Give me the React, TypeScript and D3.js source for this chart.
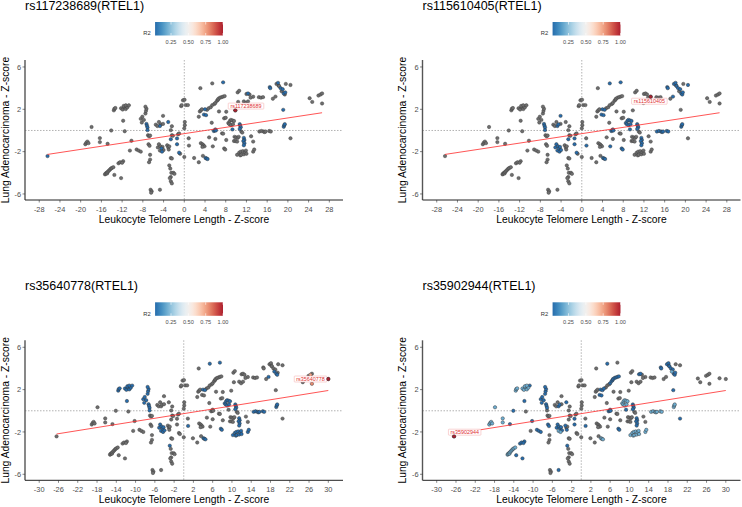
import React from "react";
import * as d3 from "d3";

// ---------- data ----------
const panelTitles = ["rs117238689(RTEL1)", "rs115610405(RTEL1)", "rs35640778(RTEL1)", "rs35902944(RTEL1)"];
const leadSnps = ["rs117238689", "rs115610405", "rs35640778", "rs35902944"];
const xTicksTop = [-28, -24, -20, -16, -12, -8, -4, 0, 4, 8, 12, 16, 20, 24, 28];
const xTicksBottom = [-30, -26, -22, -18, -14, -10, -6, -2, 2, 6, 10, 14, 18, 22, 26, 30];
const yTicks = [-6, -2, 2, 6];
const legendTicks = [0.25, 0.5, 0.75, 1.0];
const fitIntercepts = [-0.3, -0.3, -0.27, -0.27];
const fitSlopes = [0.0743, 0.0743, 0.0729, 0.0729];

// SNP positions (LTL z-score, LUAD z-score), grouped in clusters
const snpClusters: [number, number][][] = [
  [[-26.4, -2.42]], // 0
  [[-19.1, -1.3], [-18.9, -1.15], [-18.7, -1.05], [-18.5, -1.2]], // 1
  [[-17.9, 0.33]], // 2
  [[-16.3, -0.72], [-16.3, -1.1]], // 3
  [[-14.8, -1.26]], // 4
  [[-14.1, 0.0]], // 5
  [[-13.6, 1.9], [-13.5, 2.05], [-13.3, 2.12], [-12.2, 2.1], [-11.9, 1.98], [-11.6, 2.2], [-11.3, 2.02], [-11.0, 2.18], [-11.7, 2.32], [-11.3, 2.38]], // 6
  [[-10.7, 2.38]], // 7
  [[-11.8, 0.92]], // 8
  [[-11.5, -0.07]], // 9
  [[-10.2, -0.97]], // 10
  [[-10.5, -1.9]], // 11
  [[-11.8, -2.9]], // 12
  [[-15.3, -4.15], [-15.2, -4.08], [-15.0, -4.0], [-14.9, -4.06], [-14.8, -3.92], [-14.6, -3.82], [-14.4, -3.72], [-14.2, -3.62], [-14.0, -3.55], [-13.7, -3.47]], // 13
  [[-13.5, -4.2]], // 14
  [[-12.7, -3.1], [-12.4, -3.0], [-12.0, -3.05]], // 15
  [[-12.2, -4.5]], // 16
  [[-9.2, -1.8], [-8.8, -1.9], [-8.4, -2.0]], // 17
  [[-8.4, 1.1], [-8.1, 1.3], [-7.8, 1.0], [-8.2, 0.75]], // 18
  [[-7.5, 1.6], [-7.4, 1.85], [-7.3, 2.05], [-7.5, 2.25]], // 19
  [[-7.3, 0.62], [-7.2, 0.45], [-7.1, 0.28]], // 20
  [[-7.1, 0.03]], // 21
  [[-7.0, -0.45], [-6.8, -0.55], [-6.6, -0.48]], // 22
  [[-6.9, -1.3], [-6.7, -1.45]], // 23
  [[-6.6, -2.3], [-6.6, -2.75], [-6.8, -3.0]], // 24
  [[-6.5, -5.6], [-6.3, -5.75], [-6.4, -5.88]], // 25
  [[-5.5, 0.55], [-5.2, 0.42], [-4.9, 0.8]], // 26
  [[-4.7, 0.42], [-4.5, 0.58]], // 27
  [[-4.1, 0.62], [-4.1, 1.38]], // 28
  [[-3.1, 0.8]], // 29
  [[-2.6, 0.03], [-2.4, 0.4]], // 30
  [[-2.4, -0.45], [-2.2, -0.5]], // 31
  [[-2.6, -0.83]], // 32
  [[-1.4, -0.75], [-1.4, -1.3]], // 33
  [[-1.0, -2.1]], // 34
  [[-1.2, -0.36], [-1.0, -0.28]], // 35
  [[-0.6, 2.3], [-0.5, 2.4]], // 36
  [[-0.25, 2.85], [0.05, 2.9]], // 37
  [[-5.1, -1.6], [-4.9, -1.3], [-4.7, -1.9], [-4.6, -1.5], [-4.4, -1.7], [-4.3, -2.0], [-4.2, -1.55], [-4.0, -1.85]], // 38
  [[-3.3, -1.4], [-3.1, -1.6], [-3.0, -1.8], [-2.9, -1.5]], // 39
  [[-2.9, -3.3], [-2.7, -3.6], [-2.5, -4.0], [-2.6, -4.4], [-2.8, -4.5], [-2.6, -4.8], [-2.4, -5.0]], // 40
  [[-2.1, -4.0], [-1.9, -4.1]], // 41
  [[-4.7, -5.6]], // 42
  [[-2.6, -2.6], [-2.4, -2.65]], // 43
  [[-0.8, -2.2]], // 44
  [[0.1, 0.8], [0.1, 0.5], [0.0, 0.2]], // 45
  [[0.3, 2.4], [0.7, 2.4]], // 46
  [[0.85, -0.74]], // 47
  [[0.9, -1.43]], // 48
  [[0.0, -2.5]], // 49
  [[1.9, -2.6]], // 50
  [[2.8, -3.0]], // 51
  [[3.1, 4.0]], // 52
  [[3.0, 1.8], [3.2, 1.9], [3.4, 2.0]], // 53
  [[4.0, 2.0], [4.4, 1.95], [4.7, 2.1]], // 54
  [[2.8, 1.3]], // 55
  [[3.8, 1.5], [4.2, 1.45]], // 56
  [[5.1, 2.2], [5.4, 2.4], [5.8, 2.5]], // 57
  [[5.4, 4.45]], // 58
  [[3.2, -1.2], [3.5, -1.3], [3.7, -1.4], [3.9, -1.5], [3.5, -1.55]], // 59
  [[4.1, -2.6], [4.3, -2.65], [4.5, -2.7]], // 60
  [[3.6, -2.4]], // 61
  [[4.8, -0.65]], // 62
  [[5.7, -0.05], [5.9, 0.0], [6.0, 0.1], [6.1, 0.0]], // 63
  [[6.0, -0.8]], // 64
  [[5.5, -1.5]], // 65
  [[5.3, 0.73]], // 66
  [[6.0, 2.6], [6.3, 2.8], [6.5, 2.9], [6.6, 3.0], [6.9, 3.1], [7.2, 3.15], [7.5, 3.2], [7.8, 3.25]], // 67
  [[7.5, 4.55]], // 68
  [[6.7, 1.8]], // 69
  [[7.7, 1.15], [8.0, 1.2]], // 70
  [[7.3, -0.27], [7.5, -0.3]], // 71
  [[7.7, -1.7], [7.9, -1.8]], // 72
  [[8.1, 1.77]], // 73
  [[8.5, 0.7], [8.7, 0.6], [8.8, 0.9], [9.0, 1.0], [9.0, 0.5], [9.3, 0.95], [9.4, 0.6], [9.6, 0.9]], // 74
  [[8.1, -0.9]], // 75
  [[9.85, 1.9]], // 76
  [[10.3, 3.6], [10.6, 3.75]], // 77
  [[12.0, 3.45], [12.3, 3.5], [12.6, 3.4]], // 78
  [[11.5, 2.75], [11.9, 2.6], [12.3, 2.75]], // 79
  [[13.3, 3.19]], // 80
  [[10.4, 2.7]], // 81
  [[12.8, 3.1]], // 82
  [[14.4, 3.15], [14.8, 3.1], [15.2, 3.15]], // 83
  [[10.7, 0.6], [10.8, 0.45], [10.9, 0.3], [10.7, 0.15]], // 84
  [[9.3, 0.1]], // 85
  [[11.0, -0.1], [11.2, -0.2]], // 86
  [[9.7, -0.6], [10.0, -0.65], [10.3, -0.7], [10.5, -0.6]], // 87
  [[9.6, -1.0], [9.9, -1.0], [10.2, -1.05]], // 88
  [[11.5, -0.7], [11.6, -0.9], [11.4, -1.0], [11.6, -1.2], [11.5, -1.4]], // 89
  [[12.9, -0.55]], // 90
  [[13.3, -1.05]], // 91
  [[10.2, -2.3], [10.6, -2.1], [10.8, -2.35], [10.9, -2.0], [11.0, -2.3], [11.3, -1.95], [11.5, -2.25], [11.7, -2.05], [11.9, -1.9], [12.0, -2.2]], // 92
  [[13.3, -2.0], [13.5, -1.8]], // 93
  [[14.5, -0.1], [14.9, -0.05], [15.3, -0.1], [15.5, -0.15], [15.7, -0.1], [16.4, -0.05], [16.7, -0.1]], // 94
  [[16.5, 4.1], [16.6, 4.0]], // 95
  [[17.1, 3.0]], // 96
  [[17.8, 4.4], [18.1, 4.5], [18.2, 4.25], [18.3, 4.2], [18.6, 4.0], [18.8, 3.7], [19.0, 3.9], [19.2, 3.5], [19.4, 3.4], [19.5, 3.6]], // 97
  [[19.6, 4.4]], // 98
  [[20.5, 4.3]], // 99
  [[17.6, 3.2]], // 100
  [[19.1, 1.95]], // 101
  [[19.2, 0.35], [19.3, 0.5], [19.4, 0.6]], // 102
  [[20.5, -0.74]], // 103
  [[24.2, 3.05], [24.7, 2.7]], // 104
  [[25.9, 3.3], [26.3, 3.4], [26.6, 3.5]], // 105
  [[26.6, 2.55]], // 106
  [[28.7, 3.07]], // 107
  [[30.0, 3.0]], // 108
];

// R2 with each lead SNP: [cluster index, value]; unlisted = NA (grey); -1 = not in panel
const D = 0.02;
const L = 0.19;
const N = null;
const X = -1;
type R2 = number | null | (number | null)[];
const r2Rs117238689: [number, R2][] = [
  [0, D], [20, D], [21, D], [27, [D, N]], [29, D], [32, D], [33, D], [34, D],
  [38, [N, N, N, N, D, D, N, N]], [54, [D, N, N]], [56, D], [60, D], [63, D], [68, D], [76, 1],
  [78, [N, D, N]], [84, D], [85, D], [89, D], [95, D], [97, [N, D, N, N, D, N, D, D, N, D]],
  [101, D], [102, D], [107, X], [108, X],
];
const r2Rs115610405: [number, R2][] = [
  [20, D], [21, D], [27, D], [28, [N, D]], [32, D], [33, D], [34, D], [38, D], [48, D],
  [54, [D, D, N]], [56, D], [58, D], [60, D], [63, D], [65, D], [68, D], [72, D], [74, D],
  [80, 1], [84, D], [85, D], [89, D], [94, D], [95, D], [97, [D, D, N, D, D, N, D, D, D, D]],
  [99, D], [100, D], [102, D], [107, X], [108, X],
];
const r2Rs35640778: [number, R2][] = [
  [6, D], [7, D], [8, D], [18, D], [19, D], [20, D], [21, D], [38, D], [40, [D, N, N, N, N, N, N]],
  [48, D], [54, [D, D, N]], [58, D], [60, D], [68, D], [72, D], [74, D], [84, D], [89, D],
  [92, D], [93, D], [94, D], [97, [N, N, N, N, N, D, N, D, D, N]], [100, D], [102, D],
  [105, [N, 0.75, N]], [106, 0.8], [108, 1],
];
const r2Rs35902944: [number, R2][] = [
  [0, 1], [1, L], [2, L], [3, L], [4, D], [5, D], [6, L], [7, D], [8, D], [10, D], [12, D],
  [13, L], [14, D], [15, D], [16, D], [17, D], [18, D], [19, D], [20, D], [23, D], [27, D],
  [29, D], [33, D], [38, [D, D, L, D, D, L, D, D]], [39, [D, N, D, N]], [40, [D, N, N, N, N, N, N]],
  [42, D], [48, D], [54, D], [56, D], [58, D], [60, L], [63, D], [67, D], [72, D], [74, L],
  [78, [D, D, N]], [84, D], [85, D], [89, D], [92, L], [93, L], [94, L], [95, D],
  [97, [D, D, D, D, D, L, D, D, D, D]], [101, D], [102, L], [103, D],
];
const panelR2 = [r2Rs117238689, r2Rs115610405, r2Rs35640778, r2Rs35902944];

// ---------- layout ----------
const W = 742;
const H = 507;
const panelOffsets: [number, number][] = [[0, 0], [397.5, 0], [0, 280.3], [397.5, 280.3]];
const PL = 25, PR = 343, PT = 60, PB = 200;
const xDomTop: [number, number] = [-30.75, 30.64];
const xDomBottom: [number, number] = [-32.95, 33.05];
const yDom: [number, number] = [-6.57, 6.66];
const labelNudge: [number, number][] = [[10.7, -4.3], [-1.3, 4.5], [-17.8, 0], [10.6, -4.2]];
const FONT = "'Liberation Sans', Arial, Helvetica, sans-serif";
const PR_R = 1.7;

const r2Color = (r: number) => d3.interpolateRdBu(0.9 - 0.8 * r);

type Pt = { x: number; y: number; r2: number | null };

function panelPoints(pi: number): Pt[] {
  const table = new Map<number, R2>(panelR2[pi]);
  const pts: Pt[] = [];
  snpClusters.forEach((cl, ci) => {
    const v = table.has(ci) ? table.get(ci)! : null;
    cl.forEach(([x, y], k) => {
      const r = Array.isArray(v) ? v[k] : v;
      if (r === X) return;
      pts.push({ x, y, r2: r });
    });
  });
  return pts;
}

function Panel({ idx }: { idx: number }) {
  const [ox, oy] = panelOffsets[idx];
  const top = idx < 2;
  const xs = d3.scaleLinear().domain(top ? xDomTop : xDomBottom).range([PL, PR]);
  const ys = d3.scaleLinear().domain(yDom).range([PB, PT]);
  const xt = top ? xTicksTop : xTicksBottom;
  const pts = panelPoints(idx);
  const grey = pts.filter((p) => p.r2 === null);
  const col = pts.filter((p) => p.r2 !== null).sort((a, b) => (a.r2 as number) - (b.r2 as number));
  const lead = pts.find((p) => p.r2 === 1)!;
  const [xmin, xmax] = d3.extent(pts, (p) => p.x) as [number, number];
  const fit = (x: number) => fitIntercepts[idx] + fitSlopes[idx] * x;
  const lineGen = d3.line<number>().x((x) => xs(x)).y((x) => ys(fit(x)));

  // legend
  const lx = d3.scaleLinear().domain([0, 1]).range([153.7, 223]);
  const barX0 = lx(0.02), barX1 = lx(1);
  const barY = 22, barH = 13.5;

  const name = leadSnps[idx];
  const bw = name.length * 3.05 + 2;
  const bh = 6;
  const lcx = xs(lead.x) + labelNudge[idx][0];
  const lcy = ys(lead.y) + labelNudge[idx][1];

  return (
    <g transform={`translate(${ox},${oy})`}>
      <text x={PL} y={9.5} fontSize={12.5} fill="#000">{panelTitles[idx]}</text>
      {/* legend */}
      <text x={143.3} y={35.3} fontSize={5.8} fill="#333">R2</text>
      <rect x={barX0} y={barY} width={barX1 - barX0} height={barH} fill="url(#r2grad)" />
      {legendTicks.map((t) => (
        <g key={t}>
          <line x1={lx(t)} x2={lx(t)} y1={barY} y2={barY + 2.5} stroke="#fff" strokeWidth={0.6} />
          <line x1={lx(t)} x2={lx(t)} y1={barY + barH - 2.5} y2={barY + barH} stroke="#fff" strokeWidth={0.6} />
          <text x={lx(t)} y={43.6} fontSize={5.6} fill="#4d4d4d" textAnchor="middle">{t.toFixed(2)}</text>
        </g>
      ))}
      {/* reference lines */}
      <line x1={xs(0)} x2={xs(0)} y1={PT} y2={PB} stroke="#666" strokeWidth={0.5} strokeDasharray="1.5,1.5" />
      <line x1={PL} x2={PR} y1={ys(0)} y2={ys(0)} stroke="#666" strokeWidth={0.5} strokeDasharray="1.5,1.5" />
      {/* points */}
      {grey.map((p, i) => (
        <circle key={"g" + i} cx={xs(p.x)} cy={ys(p.y)} r={PR_R} fill="#6e6e6e" stroke="#3c3c3c" strokeWidth={0.45} />
      ))}
      {col.map((p, i) => (
        <circle key={"c" + i} cx={xs(p.x)} cy={ys(p.y)} r={PR_R} fill={r2Color(p.r2 as number)} stroke="#333" strokeWidth={0.45} />
      ))}
      {/* fit line */}
      <path d={lineGen([xmin, xmax]) || ""} fill="none" stroke="#ff2a2a" strokeWidth={0.8} />
      {/* lead label */}
      <rect x={lcx - bw / 2} y={lcy - bh / 2} width={bw} height={bh} fill="#fff" stroke="#f2a6a6" strokeWidth={0.5} rx={0.6} />
      <text x={lcx} y={lcy + 1.9} fontSize={5.4} fill="#e0302f" textAnchor="middle">{name}</text>
      <circle cx={xs(lead.x)} cy={ys(lead.y)} r={PR_R} fill={r2Color(1)} stroke="#333" strokeWidth={0.45} />
      {/* axes */}
      <line x1={PL} x2={PL} y1={PT} y2={PB} stroke="#555" strokeWidth={1.4} />
      <line x1={PL} x2={PR} y1={PB} y2={PB} stroke="#222" strokeWidth={1} />
      {yTicks.map((t) => (
        <g key={t}>
          <line x1={PL - 2.5} x2={PL} y1={ys(t)} y2={ys(t)} stroke="#333" strokeWidth={0.6} />
          <text x={PL - 4} y={ys(t) + 2.6} fontSize={7.4} fill="#4d4d4d" textAnchor="end">{t}</text>
        </g>
      ))}
      {xt.map((t) => (
        <g key={t}>
          <line x1={xs(t)} x2={xs(t)} y1={PB} y2={PB + 2.5} stroke="#333" strokeWidth={0.6} />
          <text x={xs(t)} y={212} fontSize={7.4} fill="#4d4d4d" textAnchor="middle">{t}</text>
        </g>
      ))}
      <text x={(PL + PR) / 2} y={222.5} fontSize={10.3} fill="#000" textAnchor="middle">Leukocyte Telomere Length - Z-score</text>
      <text transform={`translate(8.5,${(PT + PB) / 2}) rotate(-90)`} fontSize={10.3} fill="#000" textAnchor="middle">Lung Adenocarcinoma - Z-score</text>
    </g>
  );
}

export default function App() {
  const stops = d3.range(0, 1.0001, 0.05);
  return (
    <svg width={W} height={H} style={{ position: "absolute", left: 0, top: 0, background: "#fff" }} fontFamily={FONT}>
      <defs>
        <linearGradient id="r2grad" x1="0" x2="1" y1="0" y2="0">
          {stops.map((s) => (
            <stop key={s} offset={s} stopColor={r2Color(0.02 + 0.98 * s)} />
          ))}
        </linearGradient>
      </defs>
      <rect width={W} height={H} fill="#fff" />
      {[0, 1, 2, 3].map((i) => (
        <Panel key={i} idx={i} />
      ))}
    </svg>
  );
}
